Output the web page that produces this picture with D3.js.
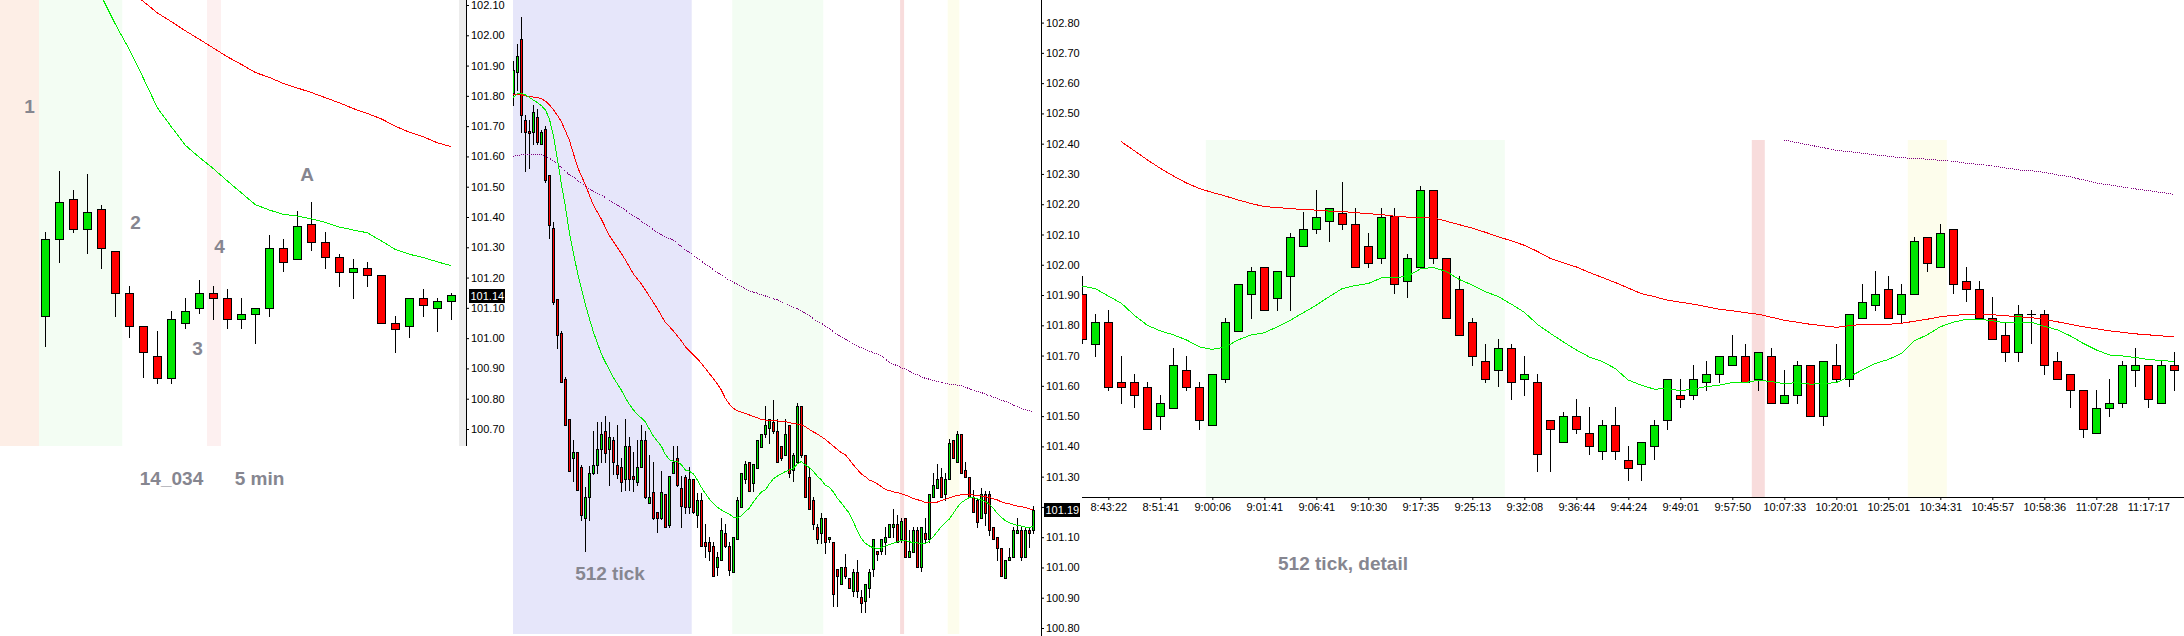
<!DOCTYPE html>
<html>
<head>
<meta charset="utf-8">
<title>14_034 5 min / 512 tick</title>
<script src="https://cdn.jsdelivr.net/npm/d3@7"></script>
<style>
  body { margin: 0; background: #fff; }
  svg { display: block; }
</style>
</head>
<body>
<script>
"use strict";

// ---------- 5 min chart (left) ----------
const leftTicks = [100.70, 100.80, 100.90, 101.00, 101.10, 101.20, 101.30, 101.40,
                   101.50, 101.60, 101.70, 101.80, 101.90, 102.00, 102.10];
// [open, high, low, close]
const leftBars = [
  [101.073,101.349,100.974,101.329],[101.329,101.551,101.252,101.448],[101.458,101.489,101.349,101.359],
  [101.359,101.541,101.282,101.418],[101.428,101.438,101.232,101.299],[101.289,101.289,101.073,101.150],
  [101.150,101.172,101.004,101.041],[101.041,101.041,100.872,100.954],[100.942,101.023,100.852,100.870],
  [100.870,101.091,100.852,101.062],[101.051,101.133,101.034,101.091],[101.101,101.191,101.083,101.150],
  [101.150,101.172,101.062,101.131],[101.131,101.161,101.034,101.062],[101.062,101.131,101.034,101.081],
  [101.081,101.101,100.984,101.101],[101.101,101.339,101.073,101.299],[101.299,101.329,101.222,101.250],
  [101.260,101.419,101.260,101.369],[101.378,101.449,101.291,101.319],[101.319,101.349,101.232,101.269],
  [101.269,101.279,101.172,101.219],[101.219,101.260,101.133,101.230],[101.230,101.250,101.172,101.210],
  [101.210,101.210,101.051,101.051],[101.051,101.073,100.954,101.031],[101.041,101.131,101.004,101.131],
  [101.131,101.161,101.073,101.111],[101.101,101.131,101.023,101.121],[101.121,101.150,101.062,101.141]
];
const leftSlowStart = 6;
const leftSlow = [102.150,102.112,102.074,102.045,102.015,101.987,101.958,101.929,101.904,101.877,
                  101.861,101.841,101.826,101.811,101.794,101.777,101.758,101.742,101.724,101.700,
                  101.680,101.665,101.645,101.632];
const leftFastStart = 3;
const leftFast = [102.222,102.130,102.037,101.953,101.859,101.761,101.698,101.637,101.597,101.560,
                  101.519,101.480,101.441,101.423,101.409,101.403,101.394,101.382,101.367,101.357,
                  101.348,101.321,101.293,101.277,101.266,101.252,101.239];
const leftZones = [[-3.3, -0.45, "open"], [-0.45, 5.5, "trend"], [11.55, 12.55, "mark"]];
const leftLast = 101.14;

// ---------- 512 tick chart (middle) ----------
const midTicks = [100.80, 100.90, 101.00, 101.10, 101.20, 101.30, 101.40, 101.50, 101.60, 101.70,
                  101.80, 101.90, 102.00, 102.10, 102.20, 102.30, 102.40, 102.50, 102.60, 102.70, 102.80];
const midBars = [
  [102.567,102.674,102.529,102.644],[102.636,102.730,102.577,102.690],[102.747,102.818,102.439,102.495],
  [102.477,102.495,102.311,102.438],[102.441,102.477,102.321,102.435],[102.438,102.529,102.399,102.506],
  [102.487,102.513,102.398,102.406],[102.399,102.446,102.398,102.438],[102.449,102.457,102.272,102.280],
  [102.298,102.298,102.089,102.131],[102.120,102.140,101.872,101.876],[101.888,101.888,101.725,101.769],
  [101.773,101.781,101.612,101.612],[101.623,101.628,101.470,101.470],[101.489,101.489,101.320,101.320],
  [101.360,101.421,101.284,101.382],[101.382,101.382,101.256,101.256],[101.331,101.340,101.157,101.173],
  [101.162,101.267,101.056,101.232],[101.232,101.334,101.157,101.312],[101.312,101.450,101.309,101.340],
  [101.340,101.481,101.313,101.390],[101.390,101.481,101.347,101.441],[101.450,101.500,101.347,101.379],
  [101.390,101.481,101.273,101.430],[101.421,101.430,101.309,101.350],[101.340,101.470,101.296,101.309],
  [101.331,101.360,101.253,101.283],[101.293,101.490,101.256,101.401],[101.401,101.430,101.256,101.293],
  [101.301,101.380,101.253,101.291],[101.283,101.421,101.273,101.331],[101.331,101.470,101.331,101.421],
  [101.421,101.450,101.229,101.232],[101.213,101.371,101.213,101.232],[101.250,101.347,101.159,101.162],
  [101.182,101.182,101.117,101.162],[101.162,101.320,101.159,101.250],[101.242,101.242,101.133,101.133],
  [101.139,101.301,101.135,101.301],[101.312,101.401,101.312,101.350],[101.360,101.401,101.269,101.272],
  [101.261,101.301,101.135,101.202],[101.300,101.306,101.179,101.201],[101.201,101.333,101.179,101.291],
  [101.291,101.291,101.179,101.182],[101.172,101.245,101.135,101.223],[101.223,101.245,101.072,101.072],
  [101.083,101.143,101.036,101.072],[101.083,101.102,101.025,101.054],[101.072,101.083,100.973,100.973],
  [101.003,101.052,100.975,101.036],[101.023,101.165,101.023,101.124],[101.113,101.143,101.069,101.072],
  [101.072,101.083,100.975,100.992],[100.984,101.102,100.984,101.102],[101.093,101.232,101.093,101.223],
  [101.201,101.311,101.201,101.311],[101.291,101.352,101.280,101.341],[101.350,101.350,101.252,101.252],
  [101.280,101.341,101.252,101.341],[101.330,101.420,101.330,101.420],[101.399,101.440,101.399,101.440],
  [101.440,101.533,101.430,101.471],[101.460,101.489,101.412,101.489],[101.482,101.553,101.443,101.451],
  [101.451,101.489,101.350,101.350],[101.401,101.401,101.355,101.361],[101.372,101.489,101.372,101.440],
  [101.471,101.471,101.300,101.311],[101.322,101.379,101.284,101.372],[101.350,101.542,101.350,101.533],
  [101.533,101.533,101.366,101.372],[101.372,101.372,101.232,101.232],[101.300,101.330,101.192,101.192],
  [101.223,101.234,101.126,101.143],[101.133,101.143,101.080,101.093],[101.113,101.179,101.080,101.162],
  [101.162,101.162,101.047,101.083],[101.093,101.102,101.083,101.102],[101.083,101.083,100.874,100.912],
  [100.994,100.994,100.874,100.973],[100.945,101.003,100.945,101.003],[101.003,101.044,100.964,100.973],
  [100.964,100.964,100.931,100.931],[100.922,100.994,100.906,100.984],[100.984,101.025,100.904,100.922],
  [100.901,100.926,100.854,100.882],[100.890,100.945,100.854,100.945],[100.931,100.994,100.904,100.984],
  [100.994,101.093,100.973,101.093],[101.054,101.054,101.025,101.044],[101.054,101.093,101.044,101.093],
  [101.083,101.133,101.044,101.102],[101.102,101.143,101.102,101.143],[101.135,101.192,101.102,101.143],
  [101.143,101.173,101.083,101.083],[101.093,101.162,101.083,101.154],[101.162,101.162,101.034,101.034],
  [101.034,101.124,101.034,101.054],[101.052,101.133,101.052,101.124],[101.124,101.135,101.003,101.003],
  [101.003,101.133,100.988,101.133],[101.113,101.162,101.083,101.093],[101.093,101.243,101.083,101.243],
  [101.232,101.311,101.232,101.272],[101.261,101.341,101.261,101.291],[101.300,101.330,101.232,101.232],
  [101.243,101.313,101.223,101.291],[101.291,101.423,101.291,101.412],[101.421,101.421,101.361,101.361],
  [101.350,101.452,101.350,101.441],[101.441,101.441,101.311,101.311],[101.322,101.350,101.300,101.300],
  [101.300,101.300,101.232,101.232],[101.232,101.256,101.182,101.182],[101.223,101.228,101.135,101.151],
  [101.162,101.261,101.162,101.243],[101.243,101.254,101.140,101.181],[101.243,101.254,101.107,101.124],
  [101.133,101.133,101.093,101.093],[101.102,101.102,101.025,101.063],[101.063,101.063,100.973,100.973],
  [100.964,101.025,100.964,101.025],[101.025,101.063,101.025,101.034],[101.034,101.133,101.034,101.124],
  [101.113,101.162,101.113,101.124],[101.124,101.133,101.025,101.034],[101.034,101.133,101.034,101.124],
  [101.124,101.133,101.069,101.113],[101.124,101.203,101.113,101.190]
];
const midSlow = [
  102.564,102.564,102.562,102.558,102.556,102.554,102.553,102.549,102.541,102.529,
  102.513,102.494,102.473,102.443,102.412,102.369,102.325,102.294,102.265,102.231,
  102.198,102.174,102.151,102.124,102.097,102.077,102.057,102.037,102.017,101.993,
  101.970,101.953,101.937,101.917,101.896,101.876,101.856,101.832,101.809,101.796,
  101.782,101.765,101.749,101.729,101.716,101.702,101.690,101.674,101.658,101.641,
  101.624,101.606,101.586,101.559,101.540,101.526,101.518,101.513,101.509,101.504,
  101.498,101.495,101.489,101.487,101.486,101.485,101.484,101.483,101.482,101.478,
  101.476,101.474,101.472,101.465,101.456,101.448,101.441,101.432,101.423,101.412,
  101.401,101.390,101.379,101.372,101.357,101.339,101.324,101.309,101.300,101.289,
  101.284,101.276,101.267,101.258,101.254,101.250,101.247,101.244,101.239,101.234,
  101.228,101.224,101.220,101.215,101.214,101.214,101.216,101.221,101.225,101.230,
  101.234,101.238,101.240,101.242,101.242,101.239,101.238,101.236,101.234,101.231,
  101.227,101.223,101.217,101.213,101.210,101.206,101.203,101.201,101.198,101.194,
  101.190
];
const midFast = [
  102.553,102.565,102.567,102.561,102.553,102.544,102.536,102.526,102.512,102.483,
  102.428,102.352,102.268,102.194,102.108,102.041,101.977,101.923,101.870,101.823,
  101.779,101.742,101.706,101.678,101.655,101.628,101.607,101.586,101.561,101.539,
  101.521,101.505,101.494,101.481,101.457,101.434,101.417,101.401,101.374,101.356,
  101.351,101.350,101.340,101.322,101.318,101.310,101.289,101.265,101.245,101.226,
  101.212,101.199,101.190,101.182,101.176,101.166,101.163,101.170,101.184,101.196,
  101.216,101.234,101.249,101.256,101.276,101.293,101.302,101.309,101.317,101.322,
  101.327,101.342,101.350,101.339,101.330,101.317,101.302,101.289,101.272,101.265,
  101.250,101.228,101.214,101.196,101.179,101.151,101.122,101.096,101.080,101.071,
  101.065,101.063,101.065,101.071,101.076,101.080,101.084,101.089,101.090,101.085,
  101.082,101.081,101.080,101.080,101.087,101.102,101.118,101.135,101.148,101.160,
  101.179,101.199,101.214,101.223,101.231,101.232,101.227,101.223,101.218,101.209,
  101.195,101.179,101.166,101.155,101.148,101.143,101.139,101.137,101.133,101.133,
  101.135
];
const midLong = [
  102.359,102.361,102.363,102.364,102.364,102.364,102.364,102.363,102.359,102.352,
  102.344,102.332,102.321,102.309,102.298,102.289,102.280,102.269,102.260,102.252,
  102.243,102.237,102.230,102.222,102.214,102.206,102.198,102.190,102.181,102.171,
  102.162,102.154,102.144,102.135,102.126,102.116,102.107,102.100,102.093,102.087,
  102.081,102.071,102.060,102.050,102.041,102.031,102.022,102.012,102.003,101.993,
  101.984,101.975,101.966,101.957,101.949,101.942,101.935,101.929,101.922,101.914,
  101.910,101.906,101.901,101.897,101.892,101.888,101.884,101.878,101.872,101.865,
  101.859,101.854,101.846,101.839,101.831,101.822,101.814,101.807,101.798,101.789,
  101.779,101.770,101.762,101.755,101.746,101.737,101.731,101.726,101.721,101.715,
  101.710,101.705,101.700,101.688,101.679,101.672,101.666,101.660,101.655,101.648,
  101.641,101.636,101.630,101.625,101.622,101.618,101.615,101.612,101.608,101.606,
  101.604,101.602,101.600,101.595,101.591,101.586,101.582,101.578,101.572,101.568,
  101.563,101.559,101.553,101.549,101.543,101.537,101.531,101.526,101.521,101.518,
  101.515
];
const midZones = [[-1, 44.6, "drop"], [54.75, 77.5, "trend"], [96.7, 97.7, "signal"], [108.6, 111.5, "pause"]];
const midLast = 101.19;

// ---------- 512 tick, detail (right) ----------
const rightTimes = ["8:43:22","8:51:41","9:00:06","9:01:41","9:06:41","9:10:30","9:17:35","9:25:13",
                    "9:32:08","9:36:44","9:44:24","9:49:01","9:57:50","10:07:33","10:20:01","10:25:01",
                    "10:34:31","10:45:57","10:58:36","11:07:28","11:17:17"];
const rightTimeBars = [2, 6, 10, 14, 18, 22, 26, 30, 34, 38, 42, 46, 50, 54, 58, 62, 66, 70, 74, 78, 82];
const rightBars = [
  [101.336,101.370,101.237,101.245],[101.235,101.295,101.211,101.279],[101.279,101.303,101.144,101.151],
  [101.160,101.211,101.118,101.151],[101.160,101.177,101.110,101.134],[101.151,101.160,101.067,101.067],
  [101.093,101.134,101.067,101.118],[101.108,101.227,101.108,101.194],[101.185,101.211,101.144,101.151],
  [101.151,101.160,101.067,101.084],[101.075,101.177,101.075,101.177],[101.167,101.287,101.160,101.279],
  [101.261,101.355,101.261,101.355],[101.336,101.389,101.287,101.380],[101.389,101.389,101.303,101.303],
  [101.328,101.380,101.303,101.380],[101.370,101.457,101.303,101.448],[101.430,101.499,101.430,101.464],
  [101.464,101.542,101.457,101.489],[101.481,101.507,101.441,101.507],[101.497,101.558,101.465,101.474],
  [101.474,101.507,101.388,101.388],[101.430,101.457,101.389,101.396],[101.406,101.507,101.397,101.489],
  [101.491,101.507,101.338,101.355],[101.362,101.414,101.330,101.406],[101.388,101.550,101.388,101.541],
  [101.541,101.541,101.397,101.406],[101.406,101.406,101.287,101.287],[101.346,101.370,101.253,101.253],
  [101.279,101.287,101.194,101.211],[101.202,101.235,101.160,101.167],[101.185,101.245,101.153,101.227],
  [101.227,101.235,101.126,101.160],[101.167,101.211,101.134,101.177],[101.160,101.177,100.984,101.017],
  [101.084,101.084,100.984,101.067],[101.040,101.101,101.040,101.093],[101.093,101.126,101.059,101.067],
  [101.059,101.110,101.017,101.033],[101.024,101.084,101.008,101.075],[101.075,101.110,101.008,101.024],
  [101.006,101.033,100.966,100.990],[100.998,101.040,100.966,101.040],[101.033,101.084,101.008,101.075],
  [101.084,101.167,101.067,101.167],[101.134,101.167,101.110,101.126],[101.134,101.194,101.126,101.167],
  [101.160,101.202,101.144,101.177],[101.177,101.211,101.160,101.211],[101.194,101.253,101.194,101.211],
  [101.211,101.235,101.160,101.160],[101.167,101.219,101.144,101.219],[101.211,101.227,101.118,101.118],
  [101.118,101.185,101.118,101.134],[101.134,101.202,101.118,101.194],[101.194,101.194,101.093,101.093],
  [101.093,101.202,101.075,101.202],[101.194,101.235,101.160,101.167],[101.167,101.295,101.153,101.295],
  [101.287,101.355,101.287,101.320],[101.313,101.380,101.303,101.336],[101.346,101.370,101.287,101.287],
  [101.295,101.355,101.279,101.336],[101.336,101.448,101.336,101.440],[101.448,101.448,101.381,101.396],
  [101.388,101.474,101.388,101.456],[101.464,101.464,101.338,101.355],[101.362,101.389,101.322,101.346],
  [101.346,101.362,101.287,101.287],[101.287,101.330,101.245,101.245],[101.253,101.279,101.202,101.219],
  [101.219,101.313,101.202,101.295],[101.295,101.303,101.237,101.295],[101.295,101.303,101.177,101.194],
  [101.202,101.219,101.167,101.167],[101.177,101.177,101.110,101.144],[101.144,101.144,101.051,101.067],
  [101.059,101.144,101.059,101.108],[101.108,101.167,101.093,101.118],[101.118,101.202,101.110,101.194],
  [101.185,101.227,101.153,101.194],[101.194,101.194,101.110,101.126],[101.118,101.202,101.118,101.194],
  [101.194,101.219,101.144,101.185]
];
const rightSlowStart = 3;
const rightSlow = [
  101.638,101.620,101.602,101.585,101.570,101.556,101.545,101.537,101.530,101.522,
  101.515,101.509,101.507,101.505,101.503,101.502,101.500,101.499,101.497,101.495,
  101.493,101.490,101.488,101.487,101.487,101.480,101.473,101.466,101.458,101.449,
  101.441,101.432,101.420,101.406,101.397,101.389,101.378,101.368,101.358,101.347,
  101.336,101.330,101.323,101.319,101.315,101.310,101.305,101.302,101.298,101.295,
  101.289,101.283,101.279,101.275,101.272,101.269,101.272,101.275,101.275,101.275,
  101.277,101.281,101.285,101.290,101.293,101.294,101.295,101.294,101.292,101.290,
  101.288,101.285,101.280,101.275,101.270,101.266,101.262,101.259,101.256,101.254,
  101.252,101.250
];
const rightFast = [
  101.351,101.346,101.331,101.317,101.293,101.273,101.262,101.254,101.244,101.230,
  101.225,101.230,101.244,101.254,101.258,101.270,101.283,101.298,101.313,101.330,
  101.346,101.352,101.356,101.367,101.368,101.370,101.385,101.388,101.380,101.364,
  101.353,101.340,101.330,101.315,101.299,101.275,101.257,101.240,101.224,101.210,
  101.201,101.187,101.164,101.154,101.146,101.147,101.143,101.146,101.151,101.154,
  101.159,101.159,101.164,101.161,101.157,101.159,101.156,101.157,101.159,101.171,
  101.184,101.197,101.205,101.217,101.242,101.254,101.270,101.279,101.285,101.285,
  101.282,101.278,101.278,101.279,101.271,101.264,101.252,101.237,101.224,101.214,
  101.212,101.209,101.205,101.203,101.201
];
const rightLongStart = 54;
const rightLong = [
  101.641,101.636,101.631,101.626,101.621,101.618,101.615,101.612,101.609,101.606,
  101.605,101.603,101.601,101.599,101.595,101.593,101.590,101.586,101.582,101.580,
  101.577,101.572,101.568,101.562,101.556,101.552,101.548,101.544,101.541,101.537,
  101.533
];
const rightZones = [[9.5, 32.5, "trend"], [51.5, 52.5, "signal"], [63.5, 66.5, "pause"]];

// ---------- styles ----------
const zoneFill = {
  open: "#fdeee6", trend: "#f3fdf3", mark: "#fdf0f0",
  drop: "#e6e6fa", signal: "#f8dcdc", pause: "#fdfdec"
};
const upColor = "#00e600", downColor = "#ff0000";
const FONT = "'Liberation Sans', Arial, sans-serif";
const noteColor = "#868690";

const svg = d3.select("body").append("svg")
    .attr("width", 2184)
    .attr("height", 636);
svg.append("rect").attr("width", 2184).attr("height", 636).attr("fill", "#fff");
const defs = svg.append("defs");

function clipTo(id, x, y, w, h) {
    defs.append("clipPath").attr("id", id)
      .append("rect").attr("x", x).attr("y", y).attr("width", w).attr("height", h);
    return svg.append("g").attr("clip-path", "url(#" + id + ")");
}

function drawZones(g, zones, x, top, bottom) {
    g.append("g").selectAll("rect")
      .data(zones)
      .join("rect")
        .attr("x", d => x(d[0]))
        .attr("width", d => x(d[1]) - x(d[0]))
        .attr("y", top)
        .attr("height", bottom - top)
        .attr("fill", d => zoneFill[d[2]]);
}

function drawAverage(g, values, start, x, y, color, dotted) {
    const line = d3.line()
        .x((d, i) => x(i + start))
        .y(d => y(d));
    const p = g.append("path")
        .datum(values)
        .attr("d", line)
        .attr("fill", "none")
        .attr("stroke", color)
        .attr("stroke-width", 1)
        .attr("shape-rendering", "crispEdges");
    if (dotted) p.attr("stroke-dasharray", "1,1");
}

function drawBars(g, bars, x, y, bodyW) {
    const gb = g.append("g").attr("shape-rendering", "crispEdges");
    const cx = i => Math.round(x(i)) + 0.5;
    gb.selectAll("line.wick")
      .data(bars)
      .join("line")
        .attr("class", "wick")
        .attr("x1", (d, i) => cx(i))
        .attr("x2", (d, i) => cx(i))
        .attr("y1", d => Math.round(y(d[1])))
        .attr("y2", d => Math.round(y(d[2])) + 1)
        .attr("stroke", "#000");
    const bodies = bars.map((d, i) => ({i: i, o: d[0], c: d[3]}));
    gb.selectAll("rect.body")
      .data(bodies.filter(d => d.o !== d.c))
      .join("rect")
        .attr("class", "body")
        .attr("x", d => cx(d.i) - bodyW / 2)
        .attr("y", d => Math.round(y(Math.max(d.o, d.c))) + 0.5)
        .attr("width", bodyW)
        .attr("height", d => Math.max(1, Math.round(y(Math.min(d.o, d.c))) - Math.round(y(Math.max(d.o, d.c)))))
        .attr("fill", d => d.c > d.o ? upColor : downColor)
        .attr("stroke", "#000")
        .attr("stroke-width", 1);
    gb.selectAll("line.doji")
      .data(bodies.filter(d => d.o === d.c))
      .join("line")
        .attr("class", "doji")
        .attr("x1", d => cx(d.i) - bodyW / 2 - 0.5)
        .attr("x2", d => cx(d.i) + bodyW / 2 + 0.5)
        .attr("y1", d => Math.round(y(d.o)) + 0.5)
        .attr("y2", d => Math.round(y(d.o)) + 0.5)
        .attr("stroke", "#000");
}

function priceAxis(xPos, y, ticks, top, bottom) {
    const ax = svg.append("g")
        .attr("transform", "translate(" + xPos + ",0)")
        .call(d3.axisRight(y).tickValues(ticks).tickSize(3).tickPadding(2).tickFormat(d3.format(".2f")));
    ax.select(".domain").remove();
    ax.attr("font-family", FONT).attr("font-size", 11);
    ax.selectAll("text").attr("fill", "#000");
    svg.append("line")
        .attr("x1", xPos + 0.5).attr("x2", xPos + 0.5)
        .attr("y1", top).attr("y2", bottom)
        .attr("stroke", "#000");
}

function lastPrice(xPos, y, value) {
    const g = svg.append("g");
    g.append("rect")
        .attr("x", xPos).attr("y", Math.round(y(value)) - 7)
        .attr("width", 36).attr("height", 14)
        .attr("fill", "#000");
    g.append("text")
        .attr("x", xPos + 1.5).attr("y", y(value))
        .attr("dy", "0.35em")
        .attr("font-family", FONT).attr("font-size", 11)
        .attr("fill", "#fff")
        .text(value.toFixed(2));
}

function note(x, y, txt) {
    svg.append("text")
        .attr("x", x).attr("y", y)
        .attr("text-anchor", "middle")
        .attr("dominant-baseline", "central")
        .attr("font-family", FONT)
        .attr("font-weight", "bold")
        .attr("font-size", 19)
        .attr("fill", noteColor)
        .text(txt);
}

// ---------- left: 5 min ----------
const xL = d3.scaleLinear().domain([0, leftBars.length - 1]).range([45.3, 451.3]);
const yL = d3.scaleLinear().domain([100.70, 102.10]).range([429, 5]);
const gL = clipTo("clipL", 0, 0, 459, 446);
drawZones(gL, leftZones, xL, 0, 446);
drawBars(gL, leftBars, xL, yL, 8);
drawAverage(gL, leftSlow, leftSlowStart, xL, yL, "#ff0000", false);
drawAverage(gL, leftFast, leftFastStart, xL, yL, "#00ee00", false);
svg.append("rect").attr("x", 459).attr("y", 0).attr("width", 7).attr("height", 446).attr("fill", "#ececec");
priceAxis(466, yL, leftTicks, 0, 446);
lastPrice(469, yL, leftLast);

// ---------- middle: 512 tick ----------
const xM = d3.scaleLinear().domain([0, midBars.length - 1]).range([513.3, 1033.3]);
const yM = d3.scaleLinear().domain([100.80, 102.80]).range([628, 22.6]);
const gM = clipTo("clipM", 513, 0, 528, 634);
drawZones(gM, midZones, xM, 0, 634);
drawBars(gM, midBars, xM, yM, 2);
drawAverage(gM, midLong, 0, xM, yM, "#800080", true);
drawAverage(gM, midSlow, 0, xM, yM, "#ff0000", false);
drawAverage(gM, midFast, 0, xM, yM, "#00ee00", false);
priceAxis(1041, yM, midTicks, 0, 636);
lastPrice(1044, yM, midLast);

// ---------- right: 512 tick, detail ----------
const xR = d3.scaleLinear().domain([0, rightBars.length - 1]).range([1082.3, 2174.3]);
const yR = d3.scaleLinear().domain([100.80, 101.70]).range([563.2, 110.5]);
const gR = clipTo("clipR", 1082, 140, 1102, 357);
drawZones(gR, rightZones, xR, 140, 497);
drawBars(gR, rightBars, xR, yR, 8);
drawAverage(gR, rightLong, rightLongStart, xR, yR, "#800080", true);
drawAverage(gR, rightSlow, rightSlowStart, xR, yR, "#ff0000", false);
drawAverage(gR, rightFast, 0, xR, yR, "#00ee00", false);

const axR = svg.append("g")
    .attr("transform", "translate(0,497)")
    .call(d3.axisBottom(xR).tickValues(rightTimeBars).tickSize(3).tickPadding(3)
      .tickFormat((d, i) => rightTimes[i]));
axR.select(".domain").remove();
axR.attr("font-family", FONT).attr("font-size", 11);
axR.selectAll("text").attr("fill", "#000");
svg.append("line")
    .attr("x1", 1082).attr("x2", 2184)
    .attr("y1", 497.5).attr("y2", 497.5)
    .attr("stroke", "#000");

// ---------- notes ----------
note(29.5, 106, "1");
note(135.5, 222, "2");
note(197.5, 348, "3");
note(219.5, 246, "4");
note(307, 174, "A");
note(171.5, 478, "14_034");
note(259.5, 478, "5 min");
note(610, 573, "512 tick");
note(1343, 563, "512 tick, detail");
</script>
</body>
</html>
